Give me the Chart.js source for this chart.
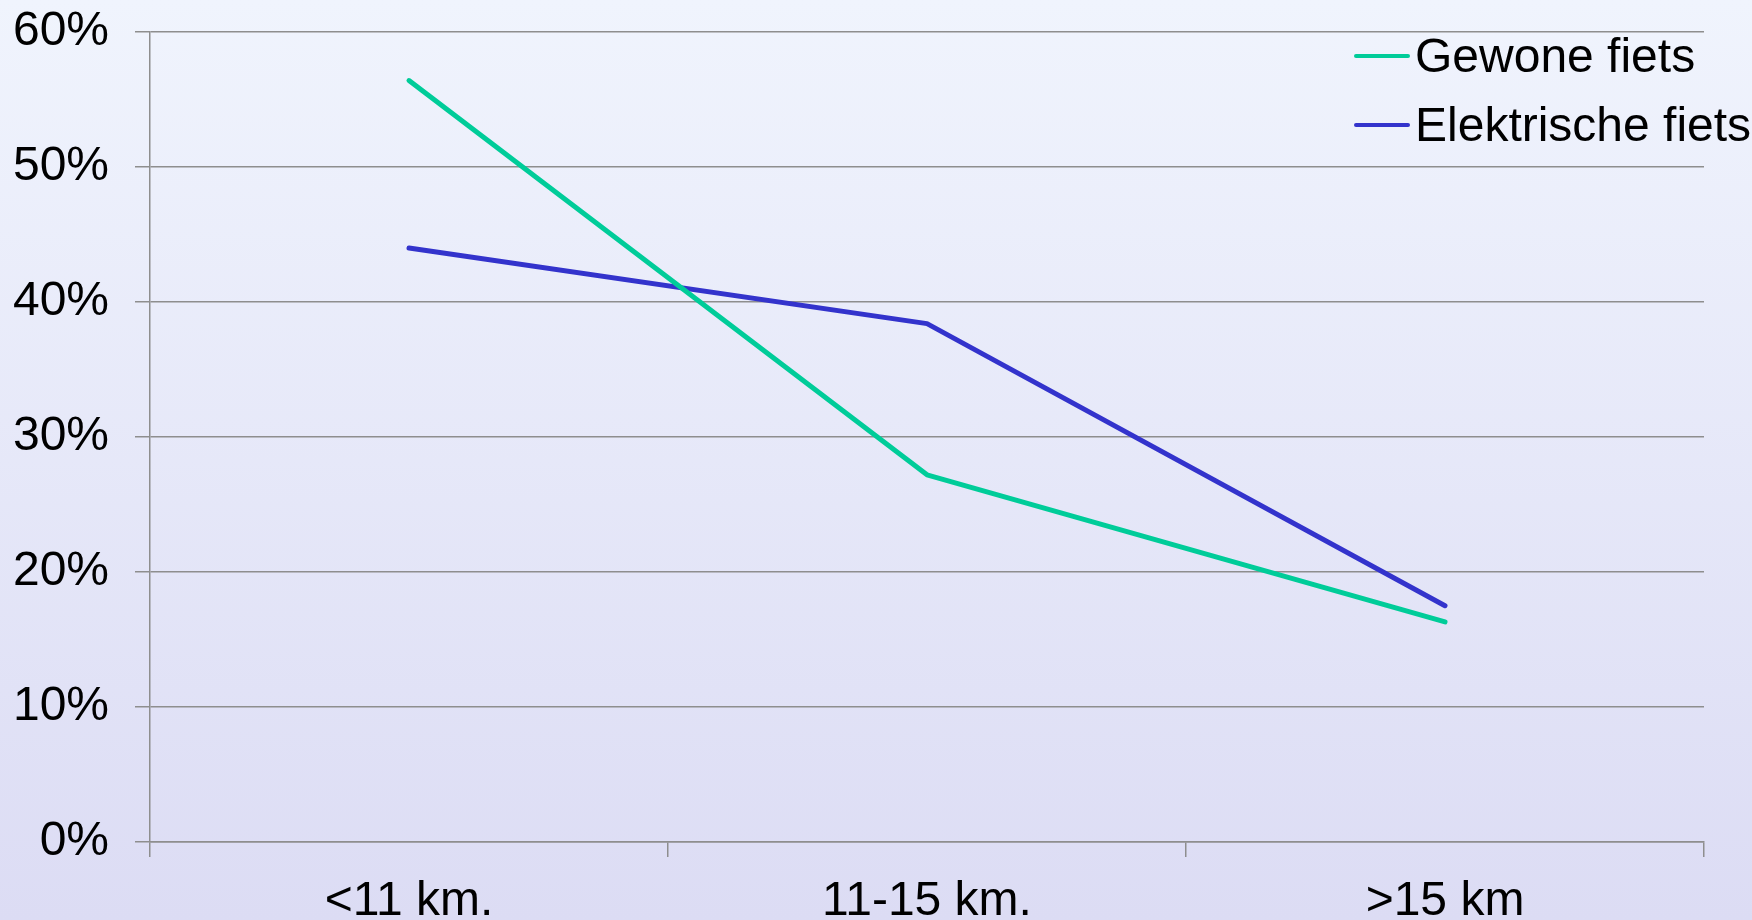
<!DOCTYPE html>
<html>
<head>
<meta charset="utf-8">
<script src="https://cdn.jsdelivr.net/npm/chart.js@4.4.1/dist/chart.umd.min.js"></script>
<style>
  html, body { margin:0; padding:0; }
  body {
    width:1752px; height:920px; overflow:hidden; position:relative;
    background: linear-gradient(#f0f4fd, #dcdcf4);
    font-family: "Liberation Sans", Arial, sans-serif;
  }
  #wrap { position:absolute; left:0; top:0; width:1752px; height:920px; }
  #legend { position:absolute; left:1354px; top:21px; }
  .lg-item { display:flex; align-items:center; height:69px; }
  .lg-line { width:56px; height:4px; border-radius:2px; margin-right:5px; }
  .lg-txt { font-size:48px; color:#000; white-space:nowrap; }
</style>
</head>
<body>
<div id="wrap"><canvas id="c"></canvas></div>
<div id="legend"></div>
<script>
/* ── Data ─────────────────────────────────────────────── */
const CATEGORIES = ["<11 km.", "11-15 km.", ">15 km"];
const GEWONE     = [56.4, 27.2, 16.3];
const ELEKTRISCH = [44.0, 38.4, 17.5];
const SERIES_NAMES = ["Gewone fiets", "Elektrische fiets"];
const Y_TICKS = [0, 10, 20, 30, 40, 50, 60];

const COLORS = ["#00cc99", "#3333cc"];
const GRID = "#8e8e8e";
const FONT = { family: "'Liberation Sans', Arial, sans-serif", size: 48 };

/* ── Chart ────────────────────────────────────────────── */
Chart.defaults.font.family = FONT.family;
Chart.defaults.color = "#000";

const chart = new Chart(document.getElementById("c"), {
  type: "line",
  data: {
    labels: CATEGORIES,
    datasets: [
      { label: SERIES_NAMES[0], data: GEWONE, borderColor: COLORS[0], backgroundColor: COLORS[0],
        borderWidth: 5, pointRadius: 0, tension: 0, borderCapStyle: "round", borderJoinStyle: "round" },
      { label: SERIES_NAMES[1], data: ELEKTRISCH, borderColor: COLORS[1], backgroundColor: COLORS[1],
        borderWidth: 5, pointRadius: 0, tension: 0, borderCapStyle: "round", borderJoinStyle: "round" },
    ],
  },
  options: {
    responsive: true,
    maintainAspectRatio: false,
    animation: false,
    layout: { padding: { top: 32, right: 48, left: 0, bottom: 0 } },
    plugins: { legend: { display: false }, tooltip: { enabled: false } },
    scales: {
      x: {
        offset: true,
        grid: { offset: true, drawOnChartArea: false, drawTicks: true, tickLength: 15,
                color: GRID, lineWidth: 1.5 },
        border: { display: true, color: GRID, width: 1.5 },
        ticks: { font: FONT, color: "#000", padding: 16, maxRotation: 0 },
        afterFit: s => { s.height = 78; s.paddingLeft = 0; s.paddingRight = 0; },
      },
      y: {
        min: 0, max: 60,
        afterBuildTicks: s => { s.ticks = Y_TICKS.map(v => ({ value: v })); },
        grid: { color: GRID, lineWidth: 1.5, tickLength: 15, drawTicks: true },
        border: { display: true, color: GRID, width: 1.5 },
        ticks: { font: FONT, color: "#000", padding: 26, callback: v => v + "%" },
        afterFit: s => { s.width = 150; s.paddingTop = 0; s.paddingBottom = 0; },
      },
    },
  },
});

/* ── Legend (overlays the plot, top right) ────────────── */
const lg = document.getElementById("legend");
chart.data.datasets.forEach(ds => {
  lg.insertAdjacentHTML("beforeend",
    `<div class="lg-item"><div class="lg-line" style="background:${ds.borderColor}"></div>` +
    `<div class="lg-txt">${ds.label}</div></div>`);
});
</script>
</body>
</html>
